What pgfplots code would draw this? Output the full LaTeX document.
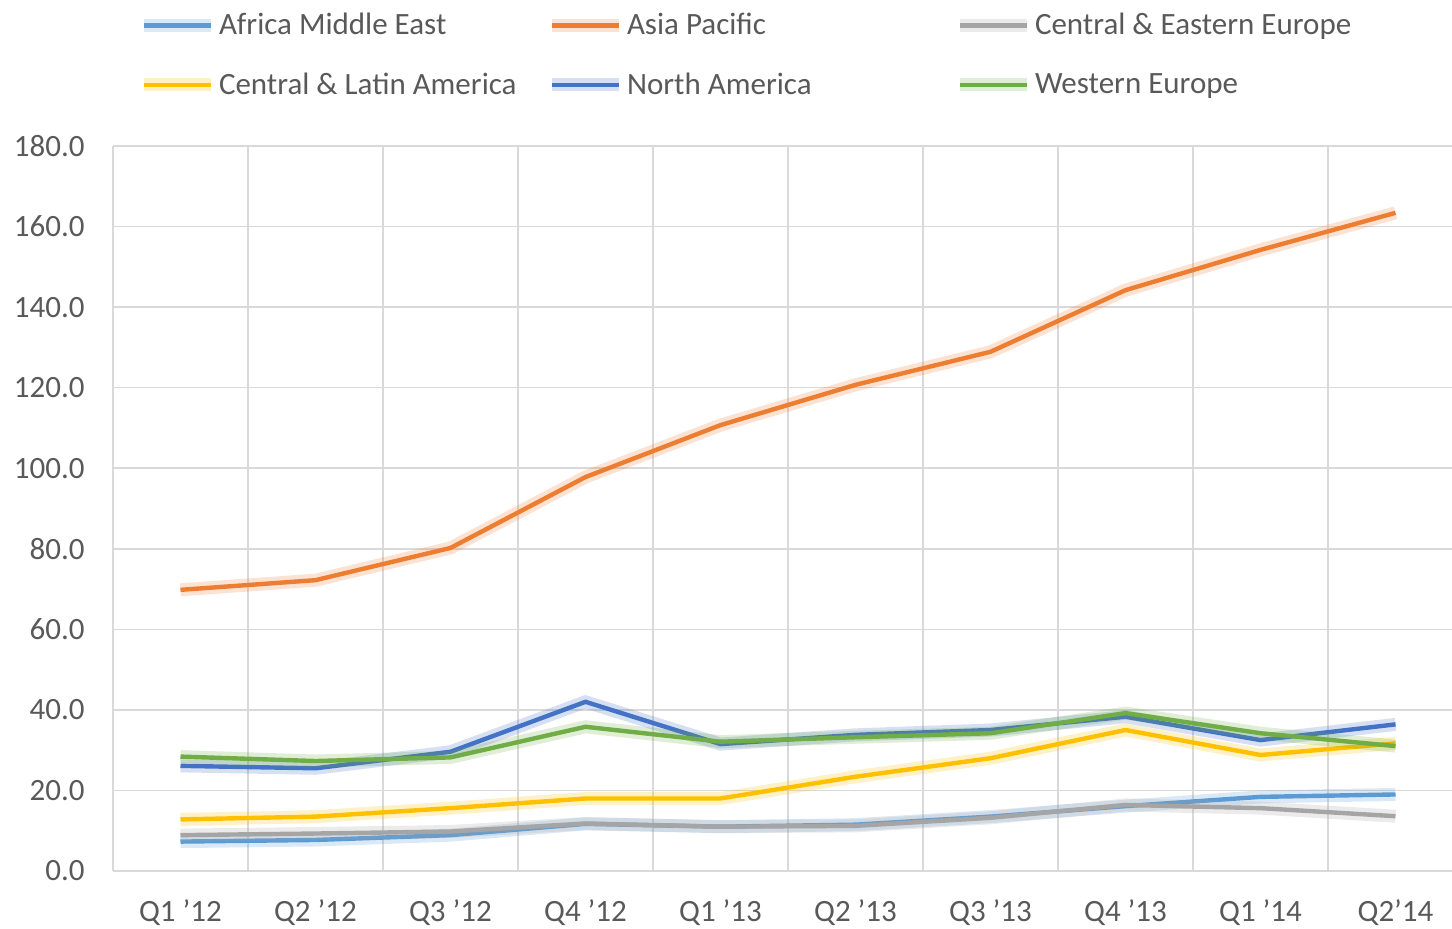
\documentclass[border=0pt]{standalone}
\usepackage{pgfplots}
\pgfplotsset{compat=1.18}
\usepackage{pgfplotstable}
\usepackage{fontspec}
\setmainfont{Carlito}

\definecolor{ame}{HTML}{5B9BD5}
\definecolor{ap}{HTML}{ED7D31}
\definecolor{cee}{HTML}{A5A5A5}
\definecolor{cla}{HTML}{FFC000}
\definecolor{na}{HTML}{4472C4}
\definecolor{we}{HTML}{70AD47}
\definecolor{txt}{HTML}{595959}
\definecolor{grd}{HTML}{D9D9D9}

% quarterly values per region
\pgfplotstableread{
x AME AP CEE CLA NA WE
0 7.3 69.8 8.9 12.8 26.1 28.4
1 7.7 72.2 9.3 13.5 25.5 27.3
2 8.9 80.2 9.8 15.6 29.6 28.2
3 11.7 97.8 11.8 18.0 42.0 35.8
4 11.0 110.7 11.0 18.0 31.5 32.1
5 11.5 120.7 11.2 23.4 33.8 33.2
6 13.5 128.9 13.2 28.0 35.0 34.2
7 16.1 144.2 16.4 35.0 38.3 39.2
8 18.4 154.2 15.6 28.8 32.5 34.2
9 19.0 163.4 13.6 31.7 36.4 31.0
}\data

\newcommand{\lbox}[1]{\makebox[162pt][l]{#1}}

\begin{document}
\begin{tikzpicture}
  \useasboundingbox (0,0) rectangle (726pt,464.5pt);
  \begin{axis}[
      at={(56.5pt,29pt)}, anchor=south west,
      scale only axis,
      width=675pt, height=362.5pt,
      xmin=-0.5, xmax=9.5,
      ymin=0, ymax=180,
      xtick={0,...,9},
      xticklabels={Q1 '12,Q2 '12,Q3 '12,Q4 '12,Q1 '13,Q2 '13,Q3 '13,Q4 '13,Q1 '14,Q2'14},
      minor xtick={-0.5,0.5,...,9.5},
      ytick={0,20,...,180},
      xminorgrids=true, ymajorgrids=true,
      major grid style={grd, line width=0.75pt},
      minor grid style={grd, line width=0.75pt},
      axis line style={draw=none},
      major tick length=0pt, minor tick length=0pt,
      tick label style={font=\fontsize{15.5}{18}\selectfont, text=txt},
      /pgf/number format/assume math mode=true,
      yticklabel={\pgfmathprintnumber[fixed,fixed zerofill,precision=1]{\tick}},
      yticklabel style={inner sep=0pt, xshift=-14pt},
      xticklabel style={inner sep=0pt, yshift=-14pt},
      legend columns=3,
      legend image code/.code={\draw[#1] (0pt,0pt) -- (33.5pt,0pt);},
      legend style={at={(0.0175,1.1865)}, anchor=north west, draw=none, fill=none,
        inner sep=0pt, font=\fontsize{15.5}{18}\selectfont, text=txt,
        nodes={inner sep=1pt}, cells={anchor=west}, row sep=15.5pt},
      every axis plot/.append style={line width=2.2pt,
        preaction={draw, line width=6.5pt, opacity=0.22}},
    ]
    \addplot[ame] table[x=x, y=AME] {\data};
    \addlegendentry{\lbox{Africa Middle East}}
    \addplot[ap] table[x=x, y=AP] {\data};
    \addlegendentry{\lbox{Asia Pacific}}
    \addplot[cee] table[x=x, y=CEE] {\data};
    \addlegendentry{Central \& Eastern Europe}
    \addplot[cla] table[x=x, y=CLA] {\data};
    \addlegendentry{\lbox{Central \& Latin America}}
    \addplot[na] table[x=x, y=NA] {\data};
    \addlegendentry{\lbox{North America}}
    \addplot[we] table[x=x, y=WE] {\data};
    \addlegendentry{Western Europe}
  \end{axis}
\end{tikzpicture}
\end{document}
